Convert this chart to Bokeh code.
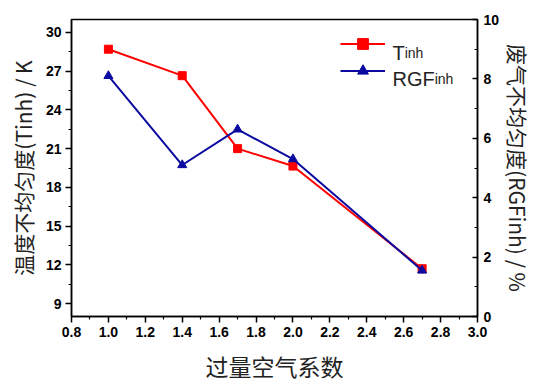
import math
from bokeh.plotting import figure
from bokeh.models import (Range1d, LinearAxis, FixedTicker, Legend, LegendItem,
                          PrintfTickFormatter, Label)
from bokeh.embed import file_html
from bokeh.resources import INLINE

# data
excess_air = [1.0, 1.4, 1.7, 2.0, 2.7]
t_inh = [28.7, 26.65, 21.0, 19.65, 11.7]
rgf_inh = [8.1, 5.1, 6.3, 5.3, 1.55]

x_ticks = [0.8, 1.0, 1.2, 1.4, 1.6, 1.8, 2.0, 2.2, 2.4, 2.6, 2.8, 3.0]
x_minor = [0.9, 1.1, 1.3, 1.5, 1.7, 1.9, 2.1, 2.3, 2.5, 2.7, 2.9]
left_ticks = [9, 12, 15, 18, 21, 24, 27, 30]
left_minor = [10.5, 13.5, 16.5, 19.5, 22.5, 25.5, 28.5]
right_ticks = [0, 2, 4, 6, 8, 10]
right_minor = [1, 3, 5, 7, 9]

x_title = "过量空气系数"
left_title = "温度不均匀度(Tinh) / K"
right_title = "废气不均匀度(RGFinh) / %"
legend_t = [("T", "lbig"), ("inh", "lsub")]
legend_rgf = [("RGF", "lbig"), ("inh", "lsub")]

RED = "#FF0000"
BLUE = "#0A0AA0"
LATIN = "Liberation Sans"
CJK = "Noto Sans CJK SC"
TEXT_COLOR = "#222222"

W, H = 536, 385
FL, FR, FT, FB = 71, 52, 19, 61
FW, FH = W - FL - FR, H - FT - FB

STYLES = {"lbig": (LATIN, 20), "lsub": (LATIN, 14)}
ADV = {"T": 0.611, "R": 0.722, "G": 0.778, "F": 0.611, "i": 0.222, "n": 0.556,
       "h": 0.556}

def text_width(s, kind):
    font, size = STYLES[kind]
    return size * sum(ADV.get(c, 0.556) for c in s)

p = figure(width=W, height=H, output_backend="svg", toolbar_location=None,
           x_range=Range1d(0.8, 3.0), y_range=Range1d(8.0, 31.0),
           min_border_left=FL, min_border_right=FR, min_border_top=FT,
           min_border_bottom=FB, x_axis_location=None, y_axis_location=None)
p.extra_y_ranges = {"rgf": Range1d(0, 10)}
p.grid.visible = False
p.outline_line_color = "black"
p.outline_line_width = 1.5
p.background_fill_color = "white"
p.border_fill_color = "white"

def style(ax, title, standoff):
    ax.axis_line_width = 1.5
    ax.major_tick_line_width = 1.5
    ax.minor_tick_line_width = 1.2
    ax.major_label_text_font = LATIN
    ax.major_label_text_font_style = "bold"
    ax.major_label_text_font_size = "14px"
    ax.major_label_text_color = "black"
    ax.axis_label = title
    ax.axis_label_text_font = CJK
    ax.axis_label_text_font_style = "normal"
    ax.axis_label_text_font_size = "21px"
    ax.axis_label_text_color = TEXT_COLOR
    ax.axis_label_standoff = standoff

xa = LinearAxis(ticker=FixedTicker(ticks=x_ticks, minor_ticks=x_minor),
                formatter=PrintfTickFormatter(format="%.1f"))
style(xa, x_title, 9)
xa.axis_label_text_font_size = "23px"
xa.major_tick_out = 6
xa.major_tick_in = 0
xa.minor_tick_out = 3
xa.minor_tick_in = 0
xa.major_label_standoff = 4
p.add_layout(xa, "below")

ya = LinearAxis(ticker=FixedTicker(ticks=left_ticks, minor_ticks=left_minor))
style(ya, left_title, 5)
ya.major_tick_out = 6
ya.major_tick_in = 0
ya.minor_tick_out = 3
ya.minor_tick_in = 0
ya.major_label_standoff = 4
p.add_layout(ya, "left")

ra = LinearAxis(y_range_name="rgf",
                ticker=FixedTicker(ticks=right_ticks, minor_ticks=right_minor))
style(ra, right_title, 1)
ra.major_tick_out = 0
ra.major_tick_in = 5
ra.minor_tick_out = 0
ra.minor_tick_in = 3
ra.major_label_standoff = 6
p.add_layout(ra, "right")

l1 = p.line(excess_air, t_inh, line_color=RED, line_width=2)
m1 = p.scatter(excess_air, t_inh, marker="square", size=8, fill_color=RED,
               line_color=RED)
l2 = p.line(excess_air, rgf_inh, line_color=BLUE, line_width=2, y_range_name="rgf")
m2 = p.scatter(excess_air, rgf_inh, marker="triangle", size=9, fill_color=BLUE,
               line_color=BLUE, y_range_name="rgf")

legend = Legend(items=[LegendItem(label=" ", renderers=[l1, m1]),
                       LegendItem(label=" ", renderers=[l2, m2])],
                location=(269, FH - 19 - 54))
legend.glyph_width = 45
legend.glyph_height = 27
legend.label_height = 27
legend.spacing = 0
legend.padding = 0
legend.margin = 0
legend.label_standoff = 0
legend.border_line_color = None
legend.background_fill_alpha = 0
legend.label_text_font_size = "4px"
p.add_layout(legend, "center")

def put_pieces(pieces, x0, y0):
    pos = 0.0
    for s, kind in pieces:
        font, size = STYLES[kind]
        p.add_layout(Label(x=x0 + pos, y=y0, x_units="screen", y_units="screen",
                           text=s, text_font=font, text_font_size=f"{size}px",
                           text_color=TEXT_COLOR, text_align="left",
                           text_baseline="alphabetic"))
        pos += text_width(s, kind)

# legend texts (inside the frame)
put_pieces(legend_t, 392 - FL, (H - FB) - 60)
put_pieces(legend_rgf, 392 - FL, (H - FB) - 86)

open("out.html", "w").write(file_html(p, INLINE))
